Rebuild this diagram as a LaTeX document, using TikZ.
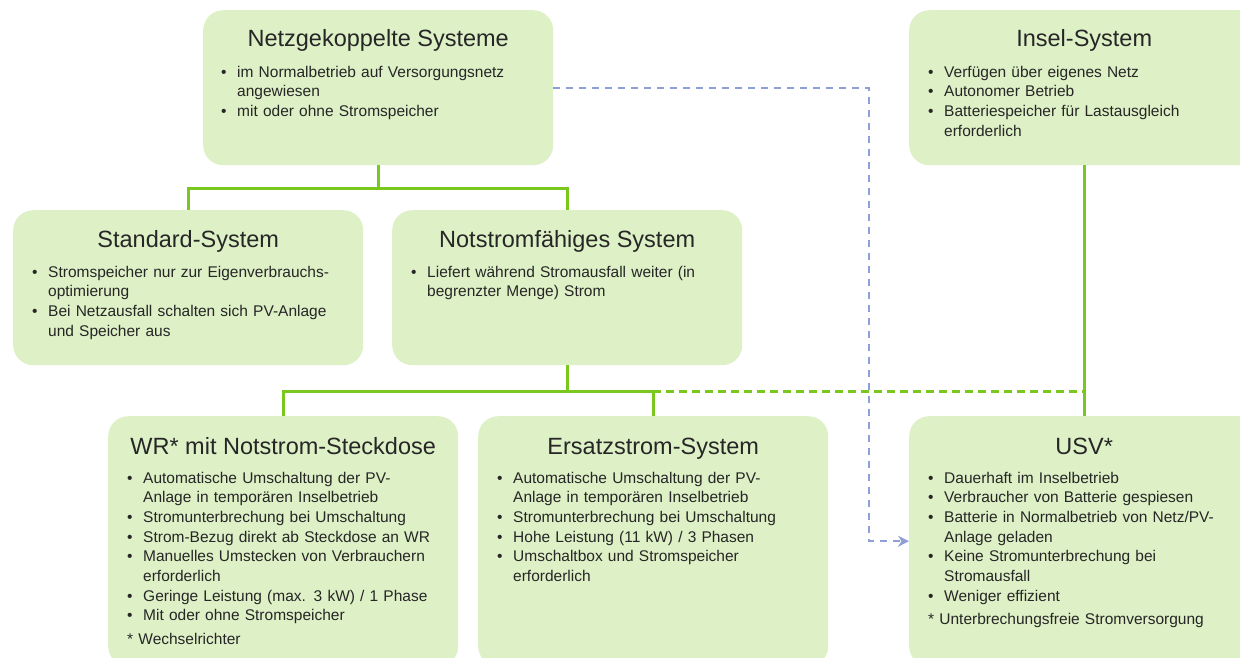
\documentclass[tikz,border=0pt]{standalone}
\usepackage{fontspec}
\setmainfont{Liberation Sans}
\usetikzlibrary{arrows.meta}
\definecolor{boxfill}{HTML}{DEF0C6}
\definecolor{conng}{HTML}{7AC81E}
\definecolor{connb}{HTML}{8E9ED6}
\definecolor{txt}{HTML}{262626}
\newcommand\bul{\makebox[16pt][l]{•}}
\newcommand\hng{\hspace*{16pt}}
\begin{document}
\begin{tikzpicture}[x=1pt,y=-1pt,
 box/.style={fill=boxfill, rounded corners=20pt, inner sep=0pt, minimum width=350pt, anchor=north west},
 ttl/.style={anchor=base, font=\fontsize{23.5}{28}\selectfont, text=txt, inner sep=0pt},
 body/.style={anchor=base west, font=\fontsize{15.5}{19.7}\selectfont, text=txt, inner sep=0pt, text width=330pt, align=left},
 conn/.style={draw=conng, line width=2.8pt},
 conndash/.style={conn, dash pattern=on 8pt off 5pt},
 blued/.style={draw=connb, line width=2.4pt, dash pattern=on 7pt off 6pt},
]
\useasboundingbox (0,0) rectangle (1240,657);
\begin{scope}
\clip (0,0) rectangle (1240,657);
% boxes
\node[box, minimum height=155pt] (netz) at (203,10) {};
\node[box, minimum height=155pt] (insel) at (909,10) {};
\node[box, minimum height=155pt] (std) at (13,210) {};
\node[box, minimum height=155pt] (not) at (392,210) {};
\node[box, minimum height=250pt] (wr) at (108,416) {};
\node[box, minimum height=250pt] (ers) at (478,416) {};
\node[box, minimum height=250pt] (usv) at (909,416) {};
% titles
\node[ttl] (netzT) at ([shift={(0,36)}]netz.north) {Netzgekoppelte Systeme};
\node[ttl] (inselT) at ([shift={(0,36)}]insel.north) {Insel-System};
\node[ttl] (stdT) at ([shift={(0,37)}]std.north) {Standard-System};
\node[ttl] (notT) at ([shift={(0,37)}]not.north) {Notstromfähiges System};
\node[ttl] (wrT) at ([shift={(0,38)}]wr.north) {WR* mit Notstrom-Steckdose};
\node[ttl] (ersT) at ([shift={(0,38)}]ers.north) {Ersatzstrom-System};
\node[ttl] (usvT) at ([shift={(0,38)}]usv.north) {USV*};
% bodies
\node[body] (netzB) at ([shift={(18,67)}]netz.north west) {\bul im Normalbetrieb auf Versorgungsnetz\\\hng angewiesen\\\bul mit oder ohne Stromspeicher};
\node[body] (inselB) at ([shift={(19,67)}]insel.north west) {\bul Verfügen über eigenes Netz\\\bul Autonomer Betrieb\\\bul Batteriespeicher für Lastausgleich\\\hng erforderlich};
\node[body] (stdB) at ([shift={(19,67)}]std.north west) {\bul Stromspeicher nur zur Eigenverbrauchs-\\\hng optimierung\\\bul Bei Netzausfall schalten sich PV-Anlage\\\hng und Speicher aus};
\node[body] (notB) at ([shift={(19,67)}]not.north west) {\bul Liefert während Stromausfall weiter (in\\\hng begrenzter Menge) Strom};
\node[body] (wrB) at ([shift={(19,67)}]wr.north west) {\bul Automatische Umschaltung der PV-\\\hng Anlage in temporären Inselbetrieb\\\bul Stromunterbrechung bei Umschaltung\\\bul Strom-Bezug direkt ab Steckdose an WR\\\bul Manuelles Umstecken von Verbrauchern\\\hng erforderlich\\\bul Geringe Leistung (max. 3 kW) / 1 Phase\\\bul Mit oder ohne Stromspeicher\\[3.5pt]* Wechselrichter};
\node[body] (ersB) at ([shift={(19,67)}]ers.north west) {\bul Automatische Umschaltung der PV-\\\hng Anlage in temporären Inselbetrieb\\\bul Stromunterbrechung bei Umschaltung\\\bul Hohe Leistung (11 kW) / 3 Phasen\\\bul Umschaltbox und Stromspeicher\\\hng erforderlich};
\node[body] (usvB) at ([shift={(19,67)}]usv.north west) {\bul Dauerhaft im Inselbetrieb\\\bul Verbraucher von Batterie gespiesen\\\bul Batterie in Normalbetrieb von Netz/PV-\\\hng Anlage geladen\\\bul Keine Stromunterbrechung bei\\\hng Stromausfall\\\bul Weniger effizient\\[3.5pt]* Unterbrechungsfreie Stromversorgung};
% connectors
\draw[conn] (netz.south) -- ++(0,23) coordinate (j1);
\draw[conn] (std.north) |- (j1) -| (not.north);
\draw[conn] (not.south) -- ++(0,26) coordinate (j2);
\draw[conn] (wr.north) |- (j2) -| (ers.north);
\coordinate (j3) at (ers.north |- j2);
\draw[conndash] (j3) -- (j3 -| usv.north);
\draw[conn] (insel.south) -- (usv.north);
\draw[blued, -{Stealth[length=11pt, width=11pt, inset=3.5pt]}] (netz.east) -| ([xshift=-40pt]usv.west) -- (usv.west);
\end{scope}
\end{tikzpicture}
\end{document}
